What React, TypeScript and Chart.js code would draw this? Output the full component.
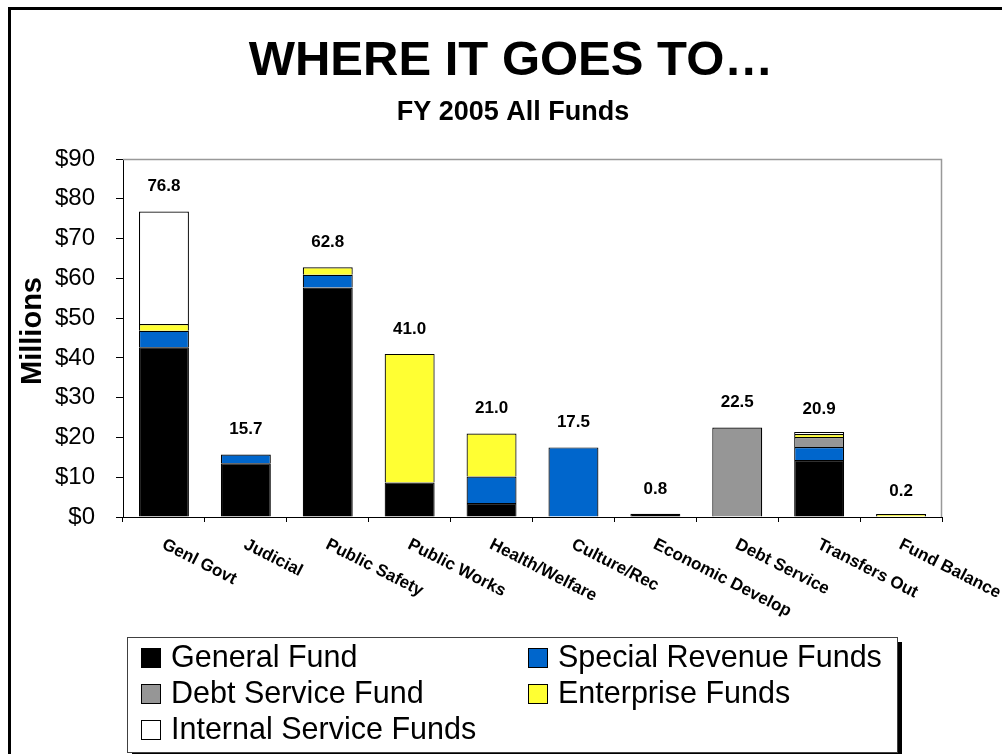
import React, { useEffect, useRef } from "react";
import { Chart, registerables } from "chart.js";

Chart.register(...registerables);

// ---- Data ----
const categories = [
  "Genl Govt",
  "Judicial",
  "Public Safety",
  "Public Works",
  "Health/Welfare",
  "Culture/Rec",
  "Economic Develop",
  "Debt Service",
  "Transfers Out",
  "Fund Balance",
];
const generalFund = [42.7, 13.5, 57.7, 8.7, 3.5, 0, 0.8, 0, 14.3, 0];
const specialRevenueFunds = [4.1, 2.2, 3.2, 0, 6.7, 17.5, 0, 0, 3.3, 0];
const debtServiceFund = [0, 0, 0, 0, 0, 0, 0, 22.5, 2.5, 0];
const enterpriseFunds = [1.7, 0, 1.9, 32.3, 10.8, 0, 0, 0, 0.3, 0.2];
const internalServiceFunds = [28.3, 0, 0, 0, 0, 0, 0, 0, 0.5, 0];
const seriesNames = [
  "General Fund",
  "Special Revenue Funds",
  "Debt Service Fund",
  "Enterprise Funds",
  "Internal Service Funds",
];
const yMin = 0;
const yMax = 90;
const yStep = 10;
const titleText = "WHERE IT GOES TO\u2026";
const subtitleText = "FY 2005 All Funds";
const yAxisTitle = "Millions";

// ---- Styles ----
const FONT = "'Liberation Sans', Arial, sans-serif";
const seriesColors = ["#000000", "#0066CC", "#969696", "#FFFF33", "#FFFFFF"];

const seriesData = [
  generalFund,
  specialRevenueFunds,
  debtServiceFund,
  enterpriseFunds,
  internalServiceFunds,
];

const totals = categories.map((_, i) =>
  Math.round(seriesData.reduce((s, arr) => s + arr[i], 0) * 10) / 10
);

const decorPlugin = {
  id: "decor",
  beforeDraw(chart: any) {
    const ctx = chart.ctx;
    ctx.save();
    ctx.fillStyle = "#ffffff";
    ctx.fillRect(0, 0, chart.width, chart.height);
    // slide frame (left + top)
    ctx.fillStyle = "#000000";
    ctx.fillRect(8, 7, 3, chart.height - 7);
    ctx.fillRect(8, 7, chart.width - 8, 3);
    ctx.restore();
  },
  afterDraw(chart: any) {
    const ctx = chart.ctx;
    const area = chart.chartArea;
    const xs = chart.scales.x;
    const ys = chart.scales.y;
    ctx.save();

    // Titles
    ctx.fillStyle = "#000";
    ctx.textAlign = "center";
    ctx.textBaseline = "alphabetic";
    ctx.font = `bold 49px ${FONT}`;
    ctx.fillText(titleText, 511, 75);
    ctx.font = `bold 27px ${FONT}`;
    ctx.fillText(subtitleText, 513, 120);

    // y axis title
    ctx.save();
    ctx.font = `bold 29px ${FONT}`;
    ctx.textAlign = "center";
    ctx.textBaseline = "middle";
    ctx.translate(33, 331);
    ctx.rotate(-Math.PI / 2);
    ctx.fillText(yAxisTitle, 0, 0);
    ctx.restore();

    // plot border (top + right), grey
    ctx.strokeStyle = "#999999";
    ctx.lineWidth = 1.5;
    ctx.beginPath();
    ctx.moveTo(area.left, area.top + 0.5);
    ctx.lineTo(area.right - 0.5, area.top + 0.5);
    ctx.lineTo(area.right - 0.5, area.bottom);
    ctx.stroke();

    // total labels
    ctx.font = `bold 17px ${FONT}`;
    ctx.textAlign = "center";
    ctx.textBaseline = "middle";
    ctx.fillStyle = "#000";
    totals.forEach((t, i) => {
      const x = xs.getPixelForValue(i);
      const y = ys.getPixelForValue(t) - 25;
      ctx.fillText(t.toFixed(1), x, y);
    });

    // rotated category labels
    ctx.font = `bold 17px ${FONT}`;
    ctx.textAlign = "left";
    ctx.textBaseline = "top";
    categories.forEach((c, i) => {
      const x = xs.getPixelForValue(i) + 3;
      const y = area.bottom + 19;
      ctx.save();
      ctx.translate(x, y);
      ctx.rotate((27 * Math.PI) / 180);
      ctx.fillText(c, 0, 0);
      ctx.restore();
    });

    // legend box
    const lx = 127, ly = 637, lw = 770, lh = 115;
    ctx.fillStyle = "#000";
    ctx.fillRect(lx + 5, ly + 5, lw, lh);
    ctx.fillStyle = "#fff";
    ctx.fillRect(lx, ly, lw, lh);
    ctx.strokeStyle = "#404040";
    ctx.lineWidth = 1;
    ctx.strokeRect(lx + 0.5, ly + 0.5, lw, lh);

    const colX = [141, 528];
    const rowY = [658, 694, 730];
    ctx.font = `30.5px ${FONT}`;
    ctx.textAlign = "left";
    ctx.textBaseline = "middle";
    seriesNames.forEach((name, i) => {
      const cx = colX[i % 2];
      const cy = rowY[Math.floor(i / 2)];
      ctx.fillStyle = seriesColors[i];
      ctx.fillRect(cx, cy - 10, 20, 20);
      ctx.strokeStyle = "#000";
      ctx.lineWidth = 1;
      ctx.strokeRect(cx + 0.5, cy - 9.5, 19, 19);
      ctx.fillStyle = "#000";
      ctx.fillText(name, cx + 30, cy + 1);
    });

    ctx.restore();
  },
};

export default function App() {
  const canvasRef = useRef<HTMLCanvasElement | null>(null);

  useEffect(() => {
    if (!canvasRef.current) return;
    Chart.defaults.font.family = FONT;
    Chart.defaults.color = "#000";

    const chart = new Chart(canvasRef.current, {
      type: "bar",
      data: {
        labels: categories,
        datasets: seriesNames.map((name, i) => ({
          label: name,
          data: seriesData[i].map((v) => (v === 0 ? null : v)),
          backgroundColor: seriesColors[i],
          borderColor: "#000000",
          borderWidth: 1.2,
          barPercentage: 0.61,
          categoryPercentage: 1.0,
          minBarLength: i === 3 ? 3 : 0,
        })),
      },
      options: {
        responsive: false,
        animation: false,
        devicePixelRatio: 1,
        layout: {
          padding: { top: 159, right: 60, bottom: 227, left: 8 },
        },
        plugins: {
          legend: { display: false },
          title: { display: false },
          tooltip: { enabled: false },
        },
        scales: {
          x: {
            type: "category",
            stacked: true,
            offset: true,
            grid: {
              offset: true,
              drawOnChartArea: false,
              drawTicks: true,
              tickLength: 5,
              color: "#000",
            },
            border: { display: true, color: "#000", width: 1 },
            ticks: { display: false },
            afterFit(scale: any) {
              scale.height = 10;
              scale.paddingLeft = 0;
              scale.paddingRight = 0;
            },
          },
          y: {
            stacked: true,
            min: yMin,
            max: yMax,
            grid: {
              drawOnChartArea: false,
              drawTicks: true,
              tickLength: 7,
              color: "#000",
            },
            border: { display: true, color: "#000", width: 1 },
            ticks: {
              stepSize: yStep,
              padding: 21,
              font: { size: 24, family: FONT },
              color: "#000",
              callback: (v: any) => "$" + v,
            },
            title: { display: false },
            afterFit(scale: any) {
              scale.width = 115;
              scale.paddingTop = 0;
              scale.paddingBottom = 0;
            },
          },
        },
      },
      plugins: [decorPlugin],
    } as any);

    return () => chart.destroy();
  }, []);

  return (
    <div
      style={{
        position: "fixed",
        left: 0,
        top: 0,
        width: 1002,
        height: 754,
        overflow: "hidden",
        background: "#fff",
      }}
    >
      <canvas
        ref={canvasRef}
        width={1002}
        height={754}
        style={{ display: "block", width: 1002, height: 754 }}
      />
    </div>
  );
}
